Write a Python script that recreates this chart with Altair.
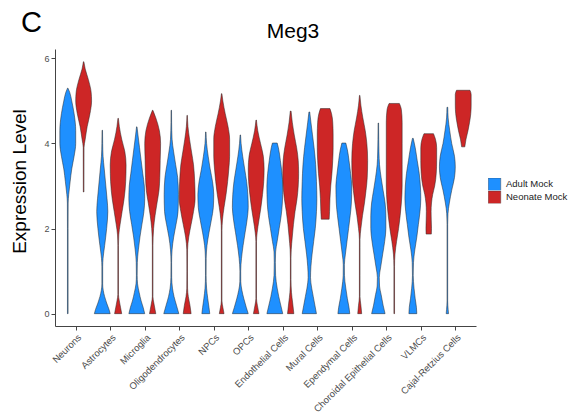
import altair as alt
import pandas as pd

cells = ["Neurons", "Astrocytes", "Microglia", "Oligodendrocytes", "NPCs", "OPCs",
         "Endothelial Cells", "Mural Cells", "Ependymal Cells",
         "Choroidal Epithelial Cells", "VLMCs", "Cajal-Retzius Cells"]
groups = ["Adult Mock", "Neonate Mock"]
colors = ["#1E90FF", "#CD2626"]

# Violin outlines: (expression level, relative half-width)
adult = {
    "Neurons": [(0.0, 0.04), (2.0, 0.04), (2.6, 0.05), (2.8, 0.12), (3.1, 0.3), (3.4, 0.5),
                (3.7, 0.8), (4.0, 1.0), (4.3, 1.0), (4.7, 0.8), (5.0, 0.5), (5.2, 0.25), (5.3, 0.03)],
    "Astrocytes": [(0.0, 1.0), (0.1, 0.85), (0.25, 0.55), (0.4, 0.3), (0.55, 0.12), (0.7, 0.05),
                   (1.1, 0.05), (1.3, 0.1), (1.6, 0.3), (2.0, 0.55), (2.4, 0.7), (2.7, 0.6),
                   (3.0, 0.45), (3.4, 0.25), (3.7, 0.1), (4.0, 0.05), (4.31, 0.03)],
    "Microglia": [(0.0, 1.0), (0.15, 0.8), (0.3, 0.55), (0.5, 0.3), (0.7, 0.1), (0.9, 0.05),
                  (1.2, 0.07), (1.5, 0.2), (1.8, 0.4), (2.1, 0.65), (2.4, 0.9), (2.7, 1.0),
                  (3.0, 0.95), (3.3, 0.75), (3.6, 0.55), (3.9, 0.35), (4.2, 0.15), (4.39, 0.03)],
    "Oligodendrocytes": [(0.0, 0.95), (0.2, 0.65), (0.4, 0.35), (0.6, 0.15), (0.85, 0.05),
                         (1.2, 0.04), (1.5, 0.1), (1.8, 0.3), (2.1, 0.6), (2.4, 0.85), (2.8, 0.9),
                         (3.2, 0.8), (3.5, 0.55), (3.8, 0.3), (4.1, 0.1), (4.5, 0.04), (4.78, 0.03)],
    "NPCs": [(0.0, 0.5), (0.15, 0.4), (0.35, 0.25), (0.6, 0.1), (0.9, 0.04), (1.3, 0.05),
             (1.6, 0.15), (1.9, 0.4), (2.2, 0.7), (2.5, 0.95), (2.8, 1.0), (3.1, 0.85),
             (3.4, 0.55), (3.7, 0.3), (4.0, 0.1), (4.27, 0.03)],
    "OPCs": [(0.0, 1.0), (0.15, 0.75), (0.35, 0.45), (0.55, 0.2), (0.75, 0.06), (1.0, 0.05),
             (1.3, 0.15), (1.6, 0.35), (1.9, 0.6), (2.2, 0.85), (2.5, 1.0), (2.8, 0.95),
             (3.1, 0.8), (3.4, 0.55), (3.7, 0.3), (4.0, 0.1), (4.2, 0.03)],
    "Endothelial Cells": [(0.0, 1.0), (0.2, 0.75), (0.4, 0.5), (0.6, 0.3), (0.9, 0.1), (1.2, 0.07),
                          (1.45, 0.1), (1.7, 0.3), (2.0, 0.55), (2.3, 0.8), (2.6, 0.95), (3.0, 1.0),
                          (3.3, 0.9), (3.6, 0.7), (3.9, 0.45), (4.01, 0.3)],
    "Mural Cells": [(0.0, 0.9), (0.2, 0.7), (0.4, 0.5), (0.6, 0.3), (0.85, 0.15), (1.1, 0.2),
                    (1.4, 0.35), (1.7, 0.55), (2.0, 0.75), (2.4, 0.9), (2.7, 0.95), (3.1, 0.9),
                    (3.5, 0.8), (3.9, 0.6), (4.2, 0.4), (4.5, 0.2), (4.74, 0.05)],
    "Ependymal Cells": [(0.0, 0.75), (0.15, 0.65), (0.35, 0.45), (0.6, 0.25), (0.9, 0.08),
                        (1.15, 0.07), (1.4, 0.2), (1.7, 0.4), (2.0, 0.6), (2.3, 0.8), (2.6, 0.95),
                        (3.0, 1.0), (3.3, 0.85), (3.6, 0.65), (3.85, 0.45), (4.01, 0.25)],
    "Choroidal Epithelial Cells": [(0.0, 0.85), (0.2, 0.6), (0.45, 0.35), (0.65, 0.15), (0.85, 0.12),
                                   (1.1, 0.3), (1.4, 0.55), (1.7, 0.8), (2.0, 0.95), (2.3, 0.95),
                                   (2.6, 0.85), (2.9, 0.6), (3.2, 0.35), (3.5, 0.15), (3.8, 0.08),
                                   (4.1, 0.05), (4.48, 0.03)],
    "VLMCs": [(0.0, 0.5), (0.15, 0.45), (0.35, 0.3), (0.6, 0.15), (0.9, 0.05), (1.2, 0.08),
              (1.5, 0.25), (1.8, 0.5), (2.1, 0.7), (2.4, 0.9), (2.7, 1.0), (3.0, 0.95),
              (3.3, 0.8), (3.6, 0.55), (3.9, 0.3), (4.12, 0.05)],
    "Cajal-Retzius Cells": [(0.0, 0.15), (0.1, 0.1), (0.3, 0.04), (2.1, 0.04), (2.35, 0.08),
                            (2.6, 0.25), (2.9, 0.55), (3.2, 0.9), (3.45, 1.0), (3.7, 0.9),
                            (4.0, 0.55), (4.3, 0.3), (4.6, 0.1), (4.85, 0.05)],
}
neonate = {
    "Neurons": [(2.86, 0.04), (3.9, 0.05), (4.1, 0.2), (4.4, 0.45), (4.7, 0.8), (5.0, 1.0),
                (5.2, 0.95), (5.5, 0.6), (5.75, 0.2), (5.92, 0.03)],
    "Astrocytes": [(0.0, 0.45), (0.15, 0.3), (0.3, 0.15), (0.45, 0.04), (1.6, 0.04), (1.85, 0.08),
                   (2.1, 0.25), (2.4, 0.5), (2.7, 0.75), (3.1, 0.95), (3.5, 1.0), (3.8, 0.85),
                   (4.1, 0.45), (4.4, 0.15), (4.59, 0.03)],
    "Microglia": [(0.0, 0.4), (0.1, 0.3), (0.25, 0.15), (0.4, 0.04), (1.6, 0.04), (2.0, 0.12),
                  (2.3, 0.3), (2.6, 0.55), (2.9, 0.8), (3.2, 0.9), (3.6, 0.95), (4.0, 1.0),
                  (4.3, 0.85), (4.6, 0.4), (4.78, 0.03)],
    "Oligodendrocytes": [(0.0, 0.5), (0.2, 0.35), (0.4, 0.15), (0.6, 0.05), (1.0, 0.04),
                         (1.5, 0.05), (1.8, 0.2), (2.1, 0.5), (2.4, 0.8), (2.7, 1.0), (3.1, 0.95),
                         (3.5, 0.8), (3.8, 0.55), (4.1, 0.3), (4.4, 0.1), (4.66, 0.03)],
    "NPCs": [(0.0, 0.3), (0.15, 0.15), (0.3, 0.04), (1.95, 0.04), (2.2, 0.1), (2.5, 0.3),
             (2.8, 0.55), (3.1, 0.75), (3.4, 0.9), (3.7, 1.0), (4.1, 1.0), (4.4, 0.8),
             (4.7, 0.45), (5.0, 0.15), (5.17, 0.03)],
    "OPCs": [(0.0, 0.35), (0.2, 0.15), (0.35, 0.04), (1.7, 0.04), (1.9, 0.12), (2.2, 0.35),
             (2.5, 0.6), (2.8, 0.8), (3.1, 0.95), (3.4, 1.0), (3.7, 0.9), (4.0, 0.55),
             (4.3, 0.2), (4.55, 0.03)],
    "Endothelial Cells": [(0.0, 0.4), (0.25, 0.25), (0.5, 0.1), (0.8, 0.04), (1.3, 0.04),
                          (1.5, 0.07), (1.8, 0.2), (2.1, 0.35), (2.4, 0.55), (2.7, 0.8),
                          (3.0, 0.95), (3.3, 1.0), (3.6, 0.95), (3.9, 0.75), (4.2, 0.45),
                          (4.5, 0.2), (4.76, 0.05)],
    "Mural Cells": [(2.22, 0.5), (2.4, 0.55), (2.7, 0.6), (3.0, 0.7), (3.3, 0.85), (3.6, 0.95),
                    (3.9, 1.0), (4.2, 1.0), (4.5, 0.95), (4.7, 0.8), (4.82, 0.6)],
    "Ependymal Cells": [(0.0, 0.25), (0.2, 0.15), (0.4, 0.04), (1.75, 0.04), (2.0, 0.15),
                        (2.3, 0.35), (2.6, 0.6), (2.9, 0.8), (3.2, 0.95), (3.6, 1.0), (4.0, 0.9),
                        (4.3, 0.7), (4.6, 0.4), (4.9, 0.15), (5.13, 0.03)],
    "Choroidal Epithelial Cells": [(0.0, 0.04), (1.1, 0.04), (1.4, 0.1), (1.7, 0.3), (2.0, 0.55),
                                   (2.3, 0.75), (2.6, 0.9), (3.0, 1.0), (3.5, 1.0), (4.0, 1.0),
                                   (4.5, 1.0), (4.8, 0.9), (4.94, 0.65)],
    "VLMCs": [(1.87, 0.33), (2.0, 0.35), (2.2, 0.32), (2.4, 0.3), (2.6, 0.35), (2.8, 0.5),
              (3.0, 0.75), (3.3, 0.95), (3.6, 1.0), (3.9, 1.0), (4.1, 0.85), (4.23, 0.6)],
    "Cajal-Retzius Cells": [(3.92, 0.2), (4.1, 0.35), (4.3, 0.6), (4.5, 0.8), (4.7, 0.95),
                            (4.9, 1.0), (5.15, 1.0), (5.25, 0.85)],
}

HALF = 0.23      # maximum half-width of a violin, in category steps
OFFSET = 0.23    # dodge of each group from the category centre

rows = []
for gi, (grp, shapes) in enumerate(zip(groups, [adult, neonate])):
    off = -OFFSET if gi == 0 else OFFSET
    for ci, cell in enumerate(cells):
        for v, w in shapes[cell]:
            rows.append({
                "id": f"{cell}|{grp}",
                "group": grp,
                "level": v,
                "left": ci + off - w * HALF,
                "right": ci + off + w * HALF,
            })
df = pd.DataFrame(rows)

label_expr = "[" + ",".join(f"'{c}'" for c in cells) + "][datum.value]"
FONT = "Liberation Sans"

violins = alt.Chart(df).mark_area(
    orient="horizontal", interpolate="monotone", stroke="#222222", strokeWidth=0.5
).encode(
    y=alt.Y("level:Q", scale=alt.Scale(domain=[-0.29, 6.22], nice=False, zero=False),
            axis=alt.Axis(values=[0, 2, 4, 6], title="Expression Level", grid=False,
                          domainColor="#444", tickColor="#444", tickSize=4,
                          labelColor="#4d4d4d", labelFontSize=9, labelFont=FONT, labelPadding=2,
                          titleFont=FONT, titleFontSize=19, titleFontWeight="normal",
                          titleColor="black", titleX=-30, titleY=132, titleAngle=-90,
                          titleAlign="center", titleBaseline="alphabetic")),
    x=alt.X("left:Q", stack=None,
            scale=alt.Scale(domain=[-0.6, 11.6], nice=False, zero=False),
            axis=alt.Axis(values=list(range(len(cells))), labelExpr=label_expr, title=None,
                          grid=False, domainColor="#444", tickColor="#444", tickSize=4,
                          labelAngle=-45, labelAlign="right", labelBaseline="top",
                          labelColor="#4d4d4d", labelFontSize=9.5, labelFont=FONT,
                          labelPadding=2, labelOverlap=False, labelBound=False, labelFlush=False)),
    x2="right:Q",
    detail="id:N",
    color=alt.Color("group:N", scale=alt.Scale(domain=groups, range=colors),
                    legend=alt.Legend(title=None, orient="none", legendX=433, legendY=129,
                                      symbolType="square", symbolSize=156,
                                      symbolStrokeColor="#333", symbolStrokeWidth=0.4,
                                      symbolOpacity=1, rowPadding=0, labelOffset=5,
                                      clipHeight=12.5,
                                      labelFont=FONT, labelFontSize=9.5, labelColor="#222",
                                      padding=0)),
)

texts = pd.DataFrame({"t": ["C", "Meg3"]})

panel = alt.Chart(texts).transform_filter("datum.t == 'C'").mark_text(
    align="left", baseline="alphabetic", font=FONT, fontSize=29, color="black"
).encode(text="t:N", x=alt.value(-34), y=alt.value(-17))

title = alt.Chart(texts).transform_filter("datum.t == 'Meg3'").mark_text(
    align="center", baseline="alphabetic", font=FONT, fontSize=21, color="black"
).encode(text="t:N", x=alt.value(238), y=alt.value(-11.5))

chart = alt.layer(violins, panel, title).properties(
    width=421, height=277,
    padding={"left": 55, "top": 49, "right": 94, "bottom": 91},
    autosize=alt.AutoSizeParams(type="none"),
).configure(background="white", view={"stroke": None})

chart.save("out.html", embed_options={"renderer": "svg", "actions": False})
